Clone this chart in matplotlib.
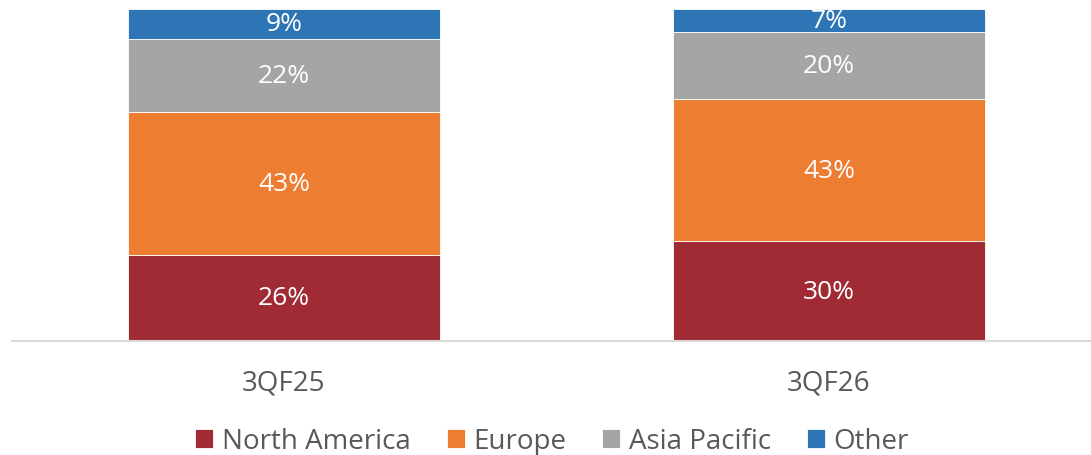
import numpy as np
import matplotlib.pyplot as plt

plt.rcParams['font.family'] = ['Open Sans', 'DejaVu Sans']

periods = ['3QF25', '3QF26']
regions = ['North America', 'Europe', 'Asia Pacific', 'Other']
north_america = [26, 30]
europe = [43, 43]
asia_pacific = [22, 20]
other = [9, 7]
colors = ['#A02B34', '#ED7D31', '#A5A5A5', '#2E75B6']

fig = plt.figure(figsize=(10.91, 4.56), dpi=100)
ax = fig.add_axes([11.5 / 1091, 1 - 342 / 456, 1090 / 1091, 332 / 456])

x = np.arange(len(periods))
bottom = np.zeros(len(periods))
for name, vals, c in zip(regions, [north_america, europe, asia_pacific, other], colors):
    vals = np.array(vals, dtype=float)
    ax.bar(x, vals, 0.5725, bottom=bottom, color=c, edgecolor='white',
           linewidth=0.6, label=name)
    for xi, b, v in zip(x, bottom, vals):
        ax.text(xi, b + v / 2, f'{v:.0f}%', ha='center', va='center',
                color='white', fontsize=19)
    bottom += vals

ax.set_xlim(-0.5, 1.5)
ax.set_ylim(0, 100)
ax.set_yticks([])
ax.set_xticks(x)
ax.set_xticklabels(periods, fontsize=20, color='#595959')
ax.tick_params(axis='x', length=0, pad=20)
for s in ['top', 'right', 'left']:
    ax.spines[s].set_visible(False)
ax.spines['bottom'].set_color('#D9D9D9')
ax.spines['bottom'].set_linewidth(1.5)
ax.patch.set_alpha(0)

fig.legend(loc='center', bbox_to_anchor=(552 / 1091, 1 - 442 / 456), ncol=4,
           frameon=False, fontsize=20, handlelength=0.65, handleheight=0.65,
           handletextpad=0.3, columnspacing=1.3, labelcolor='#595959')

fig.savefig('out.png', dpi=100)
